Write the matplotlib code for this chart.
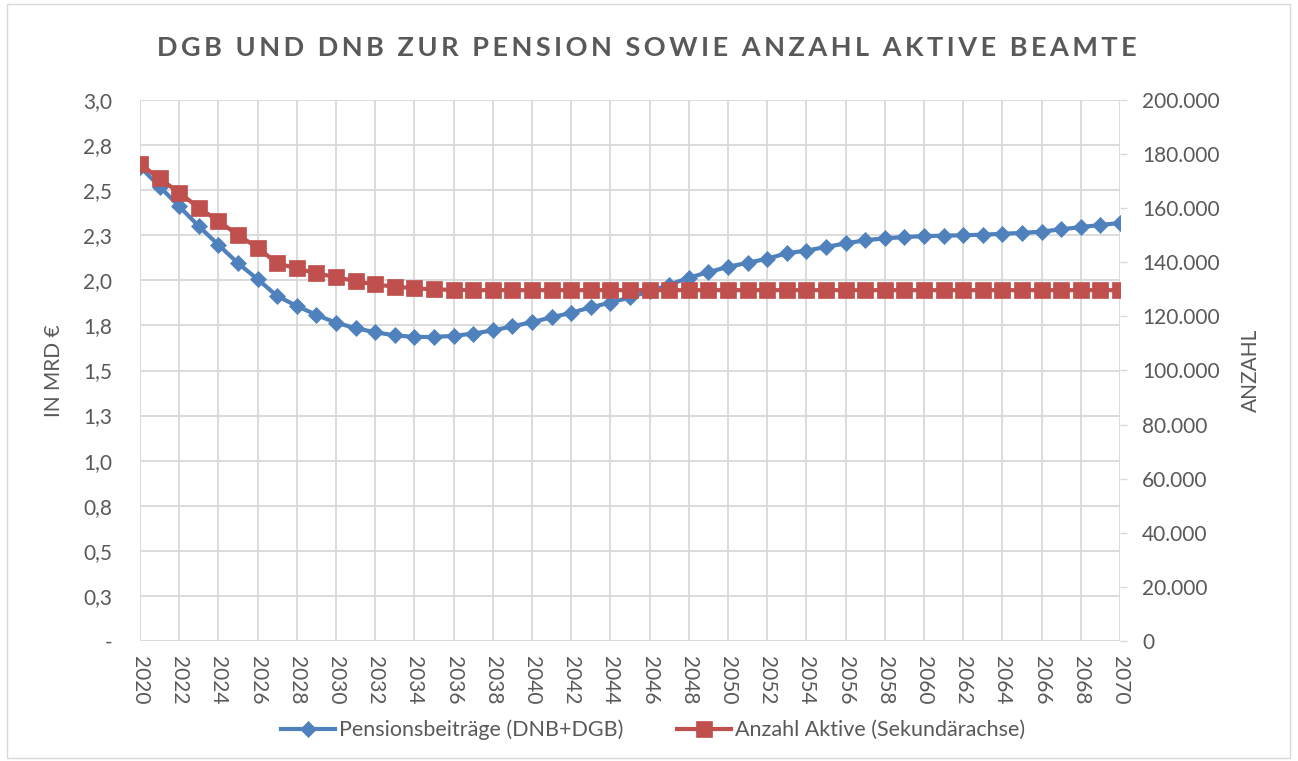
import matplotlib
matplotlib.use("Agg")
import matplotlib.pyplot as plt
from matplotlib.patches import Rectangle

# ====== Daten ======
years = list(range(2020, 2071))

# Pensionsbeiträge (DNB+DGB) in Mrd €
beitraege = [2.63, 2.52, 2.41, 2.30, 2.197, 2.095, 2.006, 1.913, 1.858, 1.808,
             1.765, 1.735, 1.712, 1.695, 1.686, 1.686, 1.692, 1.705, 1.722, 1.745,
             1.768, 1.795, 1.820, 1.850, 1.877, 1.905, 1.940, 1.975, 2.015, 2.045,
             2.075, 2.097, 2.120, 2.150, 2.165, 2.185, 2.205, 2.222, 2.233, 2.240,
             2.245, 2.248, 2.250, 2.253, 2.258, 2.263, 2.270, 2.283, 2.295, 2.307,
             2.318]

# Anzahl aktive Beamte (Sekundärachse)
aktive = [176300, 171000, 165700, 160200, 155200, 150100, 145400, 139600, 137800, 135900,
          134500, 133000, 131800, 131000, 130400, 130000, 129800, 129700, 129700, 129700,
          129700, 129700, 129700, 129700, 129700, 129700, 129700, 129700, 129700, 129700,
          129700, 129700, 129700, 129700, 129700, 129700, 129700, 129700, 129700, 129700,
          129700, 129700, 129700, 129700, 129700, 129700, 129700, 129700, 129700, 129700,
          129700]

left_ticks = [0, 0.25, 0.5, 0.75, 1.0, 1.25, 1.5, 1.75, 2.0, 2.25, 2.5, 2.75, 3.0]
left_labels = ["-", "0,3", "0,5", "0,8", "1,0", "1,3", "1,5", "1,8", "2,0", "2,3", "2,5", "2,8", "3,0"]
right_ticks = list(range(0, 200001, 20000))
right_labels = ["0" if v == 0 else f"{v // 1000}.000" for v in right_ticks]
x_ticks = list(range(2020, 2071, 2))

BLUE = "#4F81BD"
RED = "#C0504D"
GRID = "#D9D9D9"
TXT = "#595959"

plt.rcParams['font.family'] = ['Lato', 'DejaVu Sans']

# ====== Figur ======
W, H = 1298, 761
fig = plt.figure(figsize=(W / 100, H / 100), dpi=100)
ax = fig.add_axes([140 / W, 1 - 641 / H, 980 / W, 541 / H])
ax2 = ax.twinx()

l1, = ax.plot(years, beitraege, color=BLUE, lw=3, marker="D", ms=8,
              mec=BLUE, mew=0.5, label="Pensionsbeiträge (DNB+DGB)")
l2, = ax2.plot(years, aktive, color=RED, lw=3, marker="s", ms=12,
               mec=RED, mew=0.5, label="Anzahl Aktive (Sekundärachse)")

ax.set_xlim(2020, 2070)
ax.set_ylim(0, 3.0)
ax2.set_ylim(0, 200000)

ax.set_yticks(left_ticks)
ax.set_yticklabels(left_labels)
ax.set_xticks(x_ticks)
ax.set_xticklabels([str(y) for y in x_ticks], rotation=-90, va="top", ha="center")
ax2.set_yticks(right_ticks)
ax2.set_yticklabels(right_labels)

ax.grid(True, color=GRID, lw=1.3)
ax.set_axisbelow(True)
for a in (ax, ax2):
    for s in a.spines.values():
        s.set_visible(False)

ax.tick_params(axis="y", length=0, pad=20, labelsize=15, labelcolor=TXT)
ax.tick_params(axis="x", length=0, pad=11, labelsize=15, labelcolor=TXT)
ax2.tick_params(axis="y", length=5, width=1, color=GRID, pad=11, labelsize=15, labelcolor=TXT)

ax.set_ylabel("IN MRD €", fontsize=15, color=TXT)
ax.yaxis.set_label_coords(-0.078, 0.5)
ax2.set_ylabel("ANZAHL", fontsize=15, color=TXT, rotation=90)
ax2.yaxis.set_label_coords(1.123, 0.5)

# Titel mit Sperrung
title = "DGB UND DNB ZUR PENSION SOWIE ANZAHL AKTIVE BEAMTE"
spaced = "\u200a\u200a".join(title)
fig.text(647 / W, 1 - 48 / H, spaced, ha="center", va="center",
         fontsize=19.5, fontweight="bold", color=TXT)

fig.legend(handles=[l1, l2], loc="center", bbox_to_anchor=(653 / W, 1 - 730 / H),
           ncol=2, frameon=False, fontsize=15.5, labelcolor=TXT, numpoints=1,
           handlelength=2.5, handletextpad=0.2, columnspacing=2.5)

fig.add_artist(Rectangle((7 / W, 3 / H), 1283 / W, 754 / H, transform=fig.transFigure,
                         fill=False, edgecolor=GRID, lw=1))

fig.savefig("out.png", dpi=100)
